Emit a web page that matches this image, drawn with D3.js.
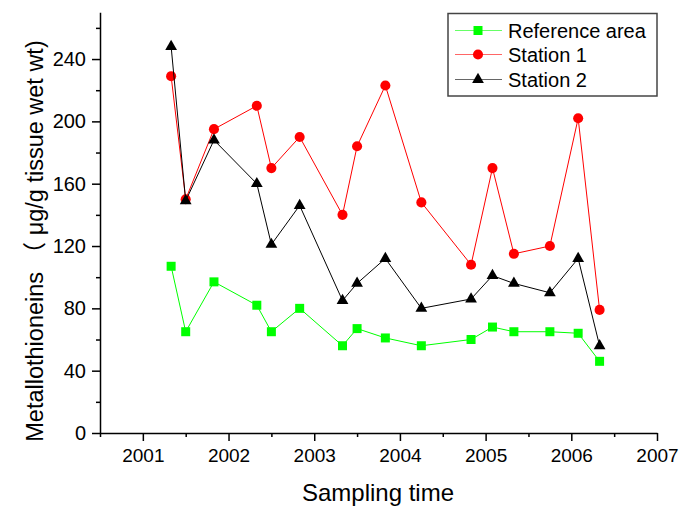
<!DOCTYPE html>
<html>
<head>
<meta charset="utf-8">
<script src="https://cdn.jsdelivr.net/npm/d3@7"></script>
<style>
html,body{margin:0;padding:0;background:#fff;}
svg{display:block;font-family:Arial,"Liberation Sans","Noto Sans CJK SC",sans-serif;}
</style>
</head>
<body>
<svg id="chart" width="680" height="509"></svg>
<script>
const times = [2001.33, 2001.5, 2001.83, 2002.33, 2002.5, 2002.83, 2003.33, 2003.5, 2003.83, 2004.25, 2004.83, 2005.08, 2005.33, 2005.75, 2006.08, 2006.33];
const referenceArea = [107, 65, 97, 82, 65, 80, 56, 67, 61, 56, 60, 68, 65, 65, 64, 46];
const station1 = [229, 150, 195, 210, 170, 190, 140, 184, 223, 148, 108, 170, 115, 120, 202, 79];
const station2 = [248, 149, 188, 160, 121, 146, 85, 96, 112, 80, 86, 101, 96, 90, 112, 56];
const xTickLabels = [2001, 2002, 2003, 2004, 2005, 2006, 2007];
const yTickLabels = [0, 40, 80, 120, 160, 200, 240];
const seriesNames = ["Reference area", "Station 1", "Station 2"];

const svg = d3.select("#chart");
const x = d3.scaleLinear().domain([2000.5, 2007]).range([100, 657]);
const y = d3.scaleLinear().domain([0, 270]).range([433, 12.3]);

const series = [
  {name: seriesNames[0], values: referenceArea, color: "#00ff00", symbol: d3.symbolSquare, size: 81},
  {name: seriesNames[1], values: station1, color: "#ff0000", symbol: d3.symbolCircle, size: 80},
  {name: seriesNames[2], values: station2, color: "#000000", symbol: d3.symbolTriangle, size: 60}
];

// Axes
const minorX = d3.range(2000.5, 2007, 1);
const minorY = d3.range(20, 270, 40);

const gx = svg.append("g").attr("transform", "translate(0,433)");
gx.call(d3.axisBottom(x).tickValues(minorX).tickSize(4).tickFormat(""));
gx.call(g => g.select(".domain").remove());
const gx2 = svg.append("g").attr("transform", "translate(0,433)");
gx2.call(d3.axisBottom(x).tickValues(xTickLabels).tickSize(8).tickSizeOuter(0).tickPadding(8).tickFormat(d3.format("d")));
gx2.selectAll("text").attr("font-size", 19).attr("fill", "#000").attr("font-family", "Arial, 'Liberation Sans', sans-serif");
svg.selectAll("g line, g path").attr("stroke", "#000").attr("stroke-width", 1.5);

const gy = svg.append("g").attr("transform", "translate(100,0)");
gy.call(d3.axisLeft(y).tickValues(minorY).tickSize(4).tickFormat(""));
gy.call(g => g.select(".domain").remove());
const gy2 = svg.append("g").attr("transform", "translate(100,0)");
gy2.call(d3.axisLeft(y).tickValues(yTickLabels).tickSize(8).tickSizeOuter(0).tickPadding(6));
gy2.selectAll("text").attr("font-size", 20).attr("fill", "#000").attr("font-family", "Arial, 'Liberation Sans', sans-serif");
svg.selectAll("g line, g path").attr("stroke", "#000").attr("stroke-width", 1.5);

// Axis titles
svg.append("text")
  .attr("x", 378).attr("y", 501)
  .attr("text-anchor", "middle")
  .attr("font-size", 24)
  .text("Sampling time");

svg.append("text")
  .attr("transform", "translate(43,241) rotate(-90)")
  .attr("text-anchor", "middle")
  .attr("font-size", 23.5)
  .style("white-space", "pre")
  .text("Metallothioneins （ μg/g tissue wet wt)");

// Series
const line = d3.line().x((d, i) => x(times[i])).y(d => y(d));
series.forEach(s => {
  svg.append("path")
    .datum(s.values)
    .attr("fill", "none")
    .attr("stroke", s.color)
    .attr("stroke-width", 1)
    .attr("d", line);
  svg.append("g").selectAll("path")
    .data(s.values)
    .join("path")
    .attr("transform", (d, i) => `translate(${x(times[i])},${y(d)})`)
    .attr("d", d3.symbol().type(s.symbol).size(s.size))
    .attr("fill", s.color);
});

// Legend
const lg = svg.append("g");
lg.append("rect")
  .attr("x", 448).attr("y", 13.5).attr("width", 209).attr("height", 82.5)
  .attr("fill", "#fff").attr("stroke", "#444").attr("stroke-width", 1.5);
const rowsY = [30.5, 54.5, 79.5];
series.forEach((s, i) => {
  const g = lg.append("g").attr("transform", `translate(0,${rowsY[i]})`);
  g.append("line").attr("x1", 455).attr("x2", 502).attr("y1", 0).attr("y2", 0)
    .attr("stroke", s.color).attr("stroke-width", 1).attr("stroke-opacity", 0.6);
  g.append("path").attr("transform", "translate(478,0)")
    .attr("d", d3.symbol().type(s.symbol).size(s.size)).attr("fill", s.color);
  g.append("text").attr("x", 508).attr("y", 7.5).attr("font-size", 20).text(s.name);
});
</script>
</body>
</html>
